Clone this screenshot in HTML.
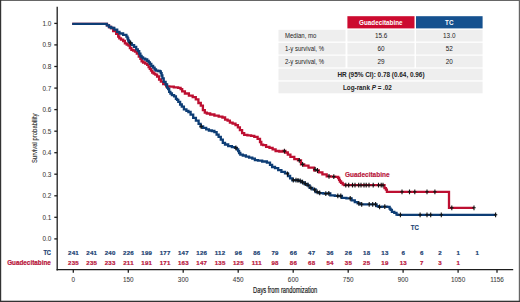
<!DOCTYPE html>
<html><head><meta charset="utf-8"><style>
html,body{margin:0;padding:0;background:#fff;}
body{width:520px;height:302px;overflow:hidden;position:relative;font-family:"Liberation Sans", sans-serif;}
svg{position:absolute;left:0;top:0;display:block;}
</style></head><body>
<svg width="520" height="302" viewBox="0 0 520 302" font-family='"Liberation Sans", sans-serif'>
<rect x="0" y="0" width="520" height="302" fill="#fff"/>
<rect x="0" y="0" width="520" height="0.9" fill="#555"/><rect x="0" y="0" width="1.2" height="302" fill="#333"/><rect x="518.8" y="0" width="1.2" height="302" fill="#666"/><rect x="0" y="300.7" width="520" height="1.3" fill="#333"/>
<g>
<rect x="347.4" y="16.2" width="67.1" height="12.2" fill="#cc0a2f"/>
<rect x="416" y="16.2" width="66.6" height="12.2" fill="#15518f"/>
<g fill="#eeeeee"><rect x="278.5" y="29.8" width="67" height="11.7"/><rect x="347.4" y="29.8" width="67.1" height="11.7"/><rect x="416" y="29.8" width="66.6" height="11.7"/><rect x="278.5" y="42.8" width="67" height="11.7"/><rect x="347.4" y="42.8" width="67.1" height="11.7"/><rect x="416" y="42.8" width="66.6" height="11.7"/><rect x="278.5" y="55.7" width="67" height="11.7"/><rect x="347.4" y="55.7" width="67.1" height="11.7"/><rect x="416" y="55.7" width="66.6" height="11.7"/><rect x="278.5" y="68.6" width="204.1" height="11.7"/><rect x="278.5" y="81.6" width="204.1" height="11.7"/></g>
<g font-size="6.4" fill="#222">
<text x="285" y="37.8" textLength="31.3" lengthAdjust="spacingAndGlyphs">Median, mo</text>
<text x="285" y="50.9" textLength="39" lengthAdjust="spacingAndGlyphs">1-y survival, %</text>
<text x="285" y="63.6" textLength="39" lengthAdjust="spacingAndGlyphs">2-y survival, %</text>
<g text-anchor="middle">
<text x="381.2" y="37.8">15.6</text><text x="449.3" y="37.8">13.0</text>
<text x="381.1" y="50.9">60</text><text x="449.3" y="50.9">52</text>
<text x="381.1" y="63.6">29</text><text x="449.3" y="63.6">20</text>
<text x="381" y="76.9" font-weight="bold" font-size="6.4">HR (95% CI): 0.78 (0.64, 0.96)</text>
<text x="343" y="90.1" text-anchor="start" font-weight="bold" font-size="6.3">Log-rank <tspan font-style="italic">P</tspan> = .02</text>
</g>
<g text-anchor="middle" font-weight="bold" fill="#fff" font-size="6.3">
<text x="380.8" y="24.8">Guadecitabine</text><text x="449.3" y="24.9">TC</text>
</g>
</g>
</g>
<g stroke="#1e1e1e" stroke-width="1.3" fill="none">
<line x1="57.2" y1="6.7" x2="57.2" y2="270.4"/>
<line x1="56.6" y1="269.6" x2="513.2" y2="269.6"/>
<line x1="54.3" y1="238.9" x2="57.2" y2="238.9"/><line x1="54.3" y1="217.3" x2="57.2" y2="217.3"/><line x1="54.3" y1="195.8" x2="57.2" y2="195.8"/><line x1="54.3" y1="174.2" x2="57.2" y2="174.2"/><line x1="54.3" y1="152.7" x2="57.2" y2="152.7"/><line x1="54.3" y1="131.2" x2="57.2" y2="131.2"/><line x1="54.3" y1="109.6" x2="57.2" y2="109.6"/><line x1="54.3" y1="88.1" x2="57.2" y2="88.1"/><line x1="54.3" y1="66.5" x2="57.2" y2="66.5"/><line x1="54.3" y1="44.9" x2="57.2" y2="44.9"/><line x1="54.3" y1="23.4" x2="57.2" y2="23.4"/>
<line x1="73.3" y1="269.6" x2="73.3" y2="272.7"/><line x1="128.3" y1="269.6" x2="128.3" y2="272.7"/><line x1="183.2" y1="269.6" x2="183.2" y2="272.7"/><line x1="238.2" y1="269.6" x2="238.2" y2="272.7"/><line x1="293.2" y1="269.6" x2="293.2" y2="272.7"/><line x1="348.2" y1="269.6" x2="348.2" y2="272.7"/><line x1="403.1" y1="269.6" x2="403.1" y2="272.7"/><line x1="458.1" y1="269.6" x2="458.1" y2="272.7"/><line x1="497.0" y1="269.6" x2="497.0" y2="272.7"/>
</g>
<g font-size="6.4" fill="#3a3a3a" stroke="#3a3a3a" stroke-width="0.06">
<text x="51.4" y="241.4" text-anchor="end">0.0</text><text x="51.4" y="219.8" text-anchor="end">0.1</text><text x="51.4" y="198.3" text-anchor="end">0.2</text><text x="51.4" y="176.8" text-anchor="end">0.3</text><text x="51.4" y="155.2" text-anchor="end">0.4</text><text x="51.4" y="133.7" text-anchor="end">0.5</text><text x="51.4" y="112.1" text-anchor="end">0.6</text><text x="51.4" y="90.6" text-anchor="end">0.7</text><text x="51.4" y="69.0" text-anchor="end">0.8</text><text x="51.4" y="47.4" text-anchor="end">0.9</text><text x="51.4" y="25.9" text-anchor="end">1.0</text>
<text x="73.3" y="281.9" text-anchor="middle">0</text><text x="128.3" y="281.9" text-anchor="middle">150</text><text x="183.2" y="281.9" text-anchor="middle">300</text><text x="238.2" y="281.9" text-anchor="middle">450</text><text x="293.2" y="281.9" text-anchor="middle">600</text><text x="348.2" y="281.9" text-anchor="middle">750</text><text x="403.1" y="281.9" text-anchor="middle">900</text><text x="458.1" y="281.9" text-anchor="middle">1050</text><text x="497.0" y="281.9" text-anchor="middle">1156</text>
</g>
<text x="0" y="0" font-size="8" fill="#2a2a2a" stroke="#2a2a2a" stroke-width="0.1" text-anchor="middle" textLength="49.6" lengthAdjust="spacingAndGlyphs" transform="translate(37 138.3) rotate(-90)">Survival probability</text>
<text x="253" y="292.8" font-size="8.4" fill="#222" stroke="#222" stroke-width="0.2" textLength="64.2" lengthAdjust="spacingAndGlyphs">Days from randomization</text>
<g font-size="6.1" font-weight="bold" text-anchor="middle" stroke-width="0.2" letter-spacing="0.25">
<g fill="#1c3f72" stroke="#1c3f72"><text x="73.5" y="255">241</text><text x="91.8" y="255">241</text><text x="110.1" y="255">240</text><text x="128.5" y="255">226</text><text x="146.8" y="255">199</text><text x="165.1" y="255">177</text><text x="183.4" y="255">147</text><text x="201.8" y="255">126</text><text x="220.1" y="255">112</text><text x="238.4" y="255">96</text><text x="256.8" y="255">86</text><text x="275.1" y="255">79</text><text x="293.4" y="255">66</text><text x="311.7" y="255">47</text><text x="330.1" y="255">36</text><text x="348.4" y="255">26</text><text x="366.7" y="255">18</text><text x="385.0" y="255">13</text><text x="403.3" y="255">6</text><text x="421.7" y="255">6</text><text x="440.0" y="255">2</text><text x="458.3" y="255">1</text><text x="477.2" y="255">1</text></g>
<g fill="#b8143a" stroke="#b8143a"><text x="73.5" y="264.9">235</text><text x="91.8" y="264.9">235</text><text x="110.1" y="264.9">233</text><text x="128.5" y="264.9">211</text><text x="146.8" y="264.9">191</text><text x="165.1" y="264.9">171</text><text x="183.4" y="264.9">163</text><text x="201.8" y="264.9">147</text><text x="220.1" y="264.9">135</text><text x="238.4" y="264.9">125</text><text x="256.8" y="264.9">111</text><text x="275.1" y="264.9">98</text><text x="293.4" y="264.9">86</text><text x="311.7" y="264.9">68</text><text x="330.1" y="264.9">54</text><text x="348.4" y="264.9">35</text><text x="366.7" y="264.9">25</text><text x="385.0" y="264.9">19</text><text x="403.3" y="264.9">13</text><text x="421.7" y="264.9">7</text><text x="440.0" y="264.9">3</text><text x="458.3" y="264.9">1</text></g>
</g>
<text x="51" y="255.3" font-size="6.4" font-weight="bold" fill="#1c3f72" stroke="#1c3f72" stroke-width="0.2" text-anchor="end" textLength="7.6" lengthAdjust="spacingAndGlyphs">TC</text>
<text x="50.8" y="265.4" font-size="6.4" font-weight="bold" fill="#b8143a" stroke="#b8143a" stroke-width="0.2" text-anchor="end" textLength="43.6" lengthAdjust="spacingAndGlyphs">Guadecitabine</text>
<text x="344.9" y="176.9" font-size="6.5" font-weight="bold" fill="#b8143a" stroke="#b8143a" stroke-width="0.15" textLength="44.6" lengthAdjust="spacingAndGlyphs">Guadecitabine</text>
<text x="410.8" y="230.2" font-size="6.4" font-weight="bold" fill="#1c3f72" stroke="#1c3f72" stroke-width="0.15" textLength="8" lengthAdjust="spacingAndGlyphs">TC</text>
<polyline points="72.2,23.9 106.0,23.9 107.0,23.9 107.0,25.4 108.0,25.4 109.0,25.4 109.0,27.0 110.0,27.0 110.8,27.0 110.8,28.0 111.6,28.0 113.2,28.0 113.2,31.2 114.8,31.2 116.2,31.2 116.2,33.9 117.5,33.9 118.2,33.9 118.2,36.5 119.0,36.5 119.3,36.5 119.3,38.4 119.6,38.4 121.0,38.4 121.0,39.6 122.5,39.6 123.2,39.6 123.2,41.0 124.0,41.0 124.9,41.0 124.9,43.4 125.8,43.4 126.7,43.4 126.7,44.5 127.6,44.5 128.5,44.5 128.5,45.7 129.4,45.7 129.9,45.7 129.9,48.1 130.5,48.1 131.4,48.1 131.4,49.9 132.3,49.9 133.2,49.9 133.2,50.5 134.1,50.5 135.0,50.5 135.0,51.7 135.9,51.7 136.8,51.7 136.8,53.5 137.7,53.5 138.8,53.5 138.8,56.5 139.8,56.5 140.4,56.5 140.4,58.9 141.0,58.9 141.6,58.9 141.6,61.3 142.2,61.3 143.1,61.3 143.1,62.5 144.0,62.5 145.2,62.5 145.2,63.7 146.3,63.7 147.2,63.7 147.2,64.9 148.0,64.9 148.6,64.9 148.6,67.1 149.2,67.1 149.8,67.1 149.8,68.9 150.4,68.9 151.0,68.9 151.0,70.7 151.6,70.7 152.2,70.7 152.2,72.5 152.8,72.5 153.7,72.5 153.7,73.7 154.5,73.7 155.3,73.7 155.3,74.7 156.2,74.7 157.1,74.7 157.1,76.5 158.1,76.5 159.1,76.5 159.1,79.5 160.2,79.5 160.9,79.5 160.9,81.6 161.6,81.6 163.2,81.6 163.2,84.2 164.8,84.2 166.2,84.2 166.2,86.3 167.5,86.3 169.3,86.3 169.3,86.6 171.2,86.6 173.8,86.6 173.8,87.4 176.5,87.4 178.1,87.4 178.1,87.9 179.6,87.9 180.6,87.9 180.6,89.2 181.5,89.2 182.2,89.2 182.2,91.4 182.8,91.4 184.9,91.4 184.9,93.5 187.0,93.5 188.9,93.5 188.9,95.6 190.8,95.6 192.7,95.6 192.7,97.2 194.5,97.2 195.8,97.2 195.8,99.3 197.1,99.3 198.4,99.3 198.4,103.0 199.7,103.0 200.8,103.0 200.8,105.7 201.9,105.7 202.9,105.7 202.9,110.1 204.0,110.1 204.8,110.1 204.8,112.7 205.5,112.7 206.8,112.7 206.8,113.5 208.1,113.5 210.2,113.5 210.2,114.5 212.3,114.5 214.4,114.5 214.4,115.6 216.6,115.6 218.7,115.6 218.7,116.6 220.8,116.6 222.4,116.6 222.4,117.5 224.1,117.5 225.1,117.5 225.1,119.6 226.2,119.6 227.6,119.6 227.6,120.6 228.9,120.6 229.9,120.6 229.9,122.6 231.0,122.6 232.6,122.6 232.6,123.6 234.2,123.6 235.5,123.6 235.5,125.2 236.8,125.2 237.9,125.2 237.9,127.3 238.9,127.3 239.9,127.3 239.9,130.1 241.0,130.1 242.1,130.1 242.1,133.2 243.2,133.2 244.2,133.2 244.2,134.8 245.3,134.8 247.4,134.8 247.4,135.4 249.5,135.4 251.1,135.4 251.1,135.9 252.7,135.9 254.3,135.9 254.3,136.9 255.9,136.9 257.6,136.9 257.6,138.8 259.2,138.8 260.0,138.8 260.0,142.0 260.8,142.0 261.3,142.0 261.3,144.7 261.8,144.7 263.1,144.7 263.1,145.2 264.5,145.2 266.1,145.2 266.1,146.8 267.6,146.8 269.5,146.8 269.5,147.8 271.3,147.8 272.6,147.8 272.6,149.4 274.0,149.4 275.6,149.4 275.6,151.0 277.2,151.0 279.3,151.0 279.3,151.5 281.4,151.5 282.7,151.5 282.7,150.9 284.0,150.9 285.4,150.9 285.4,152.5 286.7,152.5 287.8,152.5 287.8,154.6 288.8,154.6 290.4,154.6 290.4,156.8 292.0,156.8 294.3,156.8 294.3,159.1 296.6,159.1 298.0,159.1 298.0,160.4 299.3,160.4 301.0,160.4 301.0,164.4 302.6,164.4 304.2,164.4 304.2,165.7 305.9,165.7 308.5,165.7 308.5,167.7 311.2,167.7 314.1,167.7 314.1,170.3 317.1,170.3 318.8,170.3 318.8,172.3 320.5,172.3 322.4,172.3 322.4,174.3 324.4,174.3 326.7,174.3 326.7,176.3 329.0,176.3 331.0,176.3 331.0,176.6 333.0,176.6 335.2,176.6 335.2,176.8 337.5,176.8 338.1,176.8 338.1,178.0 338.7,178.0 339.1,178.0 339.1,179.9 339.5,179.9 339.9,179.9 339.9,181.5 340.3,181.5 341.1,181.5 341.1,182.8 341.9,182.8 342.7,182.8 342.7,184.4 343.5,184.4 344.2,184.4 344.2,185.2 345.0,185.2 383.8,185.2 384.5,185.2 384.5,188.2 385.2,188.2 385.9,188.2 385.9,189.6 386.5,189.6 386.9,189.6 386.9,191.8 387.2,191.8 449.0,191.8 449.0,207.8 474.0,207.8" fill="none" stroke="#bd0f31" stroke-width="2.3" stroke-linejoin="miter"/>
<polyline points="72.2,23.9 105.8,23.9 106.8,23.9 106.8,25.4 107.9,25.4 109.0,25.4 109.0,27.0 110.0,27.0 111.3,27.0 111.3,28.0 112.7,28.0 114.3,28.0 114.3,29.6 115.9,29.6 117.2,29.6 117.2,31.8 118.5,31.8 119.5,31.8 119.5,33.5 120.6,33.5 123.1,33.5 123.1,34.8 125.6,34.8 126.4,34.8 126.4,36.6 127.3,36.6 127.5,36.6 127.5,38.5 127.8,38.5 128.2,38.5 128.2,40.5 128.5,40.5 129.0,40.5 129.0,42.0 129.5,42.0 130.2,42.0 130.2,43.3 130.8,43.3 131.9,43.3 131.9,45.1 132.9,45.1 134.1,45.1 134.1,46.9 135.3,46.9 136.2,46.9 136.2,49.3 137.1,49.3 137.8,49.3 137.8,51.2 138.6,51.2 139.2,51.2 139.2,53.6 139.8,53.6 140.4,53.6 140.4,56.0 141.0,56.0 141.6,56.0 141.6,57.4 142.2,57.4 143.1,57.4 143.1,58.6 144.0,58.6 145.2,58.6 145.2,59.5 146.3,59.5 147.2,59.5 147.2,60.9 148.1,60.9 148.7,60.9 148.7,62.3 149.3,62.3 149.9,62.3 149.9,64.0 150.4,64.0 151.3,64.0 151.3,66.0 152.2,66.0 153.1,66.0 153.1,67.7 154.0,67.7 154.6,67.7 154.6,69.5 155.1,69.5 156.0,69.5 156.0,70.7 156.9,70.7 158.1,70.7 158.1,71.0 159.3,71.0 159.9,71.0 159.9,71.4 160.5,71.4 160.8,71.4 160.8,73.1 161.1,73.1 161.6,73.1 161.6,75.5 162.0,75.5 162.4,75.5 162.4,78.3 162.8,78.3 163.7,78.3 163.7,81.8 164.5,81.8 165.6,81.8 165.6,84.5 166.6,84.5 167.1,84.5 167.1,87.6 167.7,87.6 168.2,87.6 168.2,89.2 168.7,89.2 169.2,89.2 169.2,91.9 169.8,91.9 170.4,91.9 170.4,93.5 170.9,93.5 171.9,93.5 171.9,95.1 173.0,95.1 174.1,95.1 174.1,96.3 175.1,96.3 175.9,96.3 175.9,98.8 176.7,98.8 177.1,98.8 177.1,99.9 177.5,99.9 178.3,99.9 178.3,101.8 179.2,101.8 180.1,101.8 180.1,104.5 181.0,104.5 181.8,104.5 181.8,106.6 182.6,106.6 183.9,106.6 183.9,109.3 185.3,109.3 186.4,109.3 186.4,110.8 187.5,110.8 188.4,110.8 188.4,112.0 189.3,112.0 190.6,112.0 190.6,114.6 191.9,114.6 193.2,114.6 193.2,117.9 194.6,117.9 195.9,117.9 195.9,120.6 197.2,120.6 198.6,120.6 198.6,123.9 199.9,123.9 200.6,123.9 200.6,126.5 201.2,126.5 203.1,126.5 203.1,127.8 204.9,127.8 206.2,127.8 206.2,129.4 207.6,129.4 208.9,129.4 208.9,130.5 210.2,130.5 211.8,130.5 211.8,131.0 213.4,131.0 214.4,131.0 214.4,132.1 215.5,132.1 216.6,132.1 216.6,134.7 217.6,134.7 218.6,134.7 218.6,136.8 219.7,136.8 220.8,136.8 220.8,139.7 221.9,139.7 222.8,139.7 222.8,142.9 223.7,142.9 225.0,142.9 225.0,144.5 226.3,144.5 228.2,144.5 228.2,146.1 230.1,146.1 231.9,146.1 231.9,147.1 233.8,147.1 234.9,147.1 234.9,147.9 235.9,147.9 236.9,147.9 236.9,149.4 237.8,149.4 238.2,149.4 238.2,151.1 238.7,151.1 239.1,151.1 239.1,153.0 239.5,153.0 240.3,153.0 240.3,154.6 241.2,154.6 242.8,154.6 242.8,155.5 244.3,155.5 245.9,155.5 245.9,156.6 247.5,156.6 249.1,156.6 249.1,157.7 250.7,157.7 252.3,157.7 252.3,158.7 253.9,158.7 254.9,158.7 254.9,160.1 256.0,160.1 258.0,160.1 258.0,160.6 260.0,160.6 262.2,160.6 262.2,161.5 264.5,161.5 266.9,161.5 266.9,162.7 269.2,162.7 270.0,162.7 270.0,164.8 270.8,164.8 272.1,164.8 272.1,167.0 273.4,167.0 275.0,167.0 275.0,168.1 276.6,168.1 278.2,168.1 278.2,170.2 279.8,170.2 281.4,170.2 281.4,171.8 282.9,171.8 285.0,171.8 285.0,173.3 287.2,173.3 288.0,173.3 288.0,176.0 288.8,176.0 290.1,176.0 290.1,178.4 291.4,178.4 292.4,178.4 292.4,180.3 293.5,180.3 295.1,180.3 295.1,180.2 296.7,180.2 298.3,180.2 298.3,180.8 299.9,180.8 301.4,180.8 301.4,182.3 303.0,182.3 304.5,182.3 304.5,184.0 306.0,184.0 307.2,184.0 307.2,185.4 308.4,185.4 309.6,185.4 309.6,187.9 310.9,187.9 312.4,187.9 312.4,189.4 313.9,189.4 315.6,189.4 315.6,192.1 317.4,192.1 319.1,192.1 319.1,193.1 320.9,193.1 323.4,193.1 323.4,193.6 325.8,193.6 327.3,193.6 327.3,193.4 328.8,193.4 330.3,193.4 330.3,195.4 331.8,195.4 334.8,195.4 334.8,195.9 337.8,195.9 339.4,195.9 339.4,196.0 341.0,196.0 341.9,196.0 341.9,197.9 342.7,197.9 346.4,197.9 346.4,198.3 350.2,198.3 351.6,198.3 351.6,200.4 353.1,200.4 354.8,200.4 354.8,202.1 356.5,202.1 357.6,202.1 357.6,203.3 358.8,203.3 360.2,203.3 360.2,204.3 361.7,204.3 375.6,204.3 376.5,204.3 376.5,206.1 377.3,206.1 378.5,206.1 378.5,206.9 379.6,206.9 382.2,206.9 382.2,206.7 384.8,206.7 387.1,206.7 387.1,206.9 389.3,206.9 389.6,206.9 389.6,208.7 390.0,208.7 390.6,208.7 390.6,209.9 391.1,209.9 391.9,209.9 391.9,211.9 392.7,211.9 394.3,211.9 394.3,212.8 395.9,212.8 396.5,212.8 396.5,214.6 397.1,214.6 397.8,214.6 397.8,214.8 398.5,214.8 496.3,214.8" fill="none" stroke="#0d3d75" stroke-width="2.3" stroke-linejoin="miter"/>
<g stroke="#111" stroke-width="1.1" fill="none">
<path d="M284.4 148.7V153.5M282.7 151.1H286.1"/><path d="M299.3 158.0V162.8M297.6 160.4H301.0"/><path d="M302.6 162.0V166.8M300.9 164.4H304.3"/><path d="M315.1 167.0V171.8M313.4 169.4H316.8"/><path d="M317.5 168.1V172.9M315.8 170.5H319.2"/><path d="M329.0 173.9V178.7M327.3 176.3H330.7"/><path d="M333.8 174.2V179.0M332.1 176.6H335.5"/><path d="M345.8 182.8V187.6M344.1 185.2H347.5"/><path d="M348.7 182.8V187.6M347.0 185.2H350.4"/><path d="M352.5 182.8V187.6M350.8 185.2H354.2"/><path d="M355.0 182.8V187.6M353.3 185.2H356.7"/><path d="M358.7 182.8V187.6M357.0 185.2H360.4"/><path d="M361.0 182.8V187.6M359.3 185.2H362.7"/><path d="M364.0 182.8V187.6M362.3 185.2H365.7"/><path d="M366.2 182.8V187.6M364.5 185.2H367.9"/><path d="M369.0 182.8V187.6M367.3 185.2H370.7"/><path d="M373.2 182.8V187.6M371.5 185.2H374.9"/><path d="M378.5 182.8V187.6M376.8 185.2H380.2"/><path d="M381.2 182.8V187.6M379.5 185.2H382.9"/><path d="M383.0 182.8V187.6M381.3 185.2H384.7"/><path d="M402.0 189.4V194.2M400.3 191.8H403.7"/><path d="M409.5 189.4V194.2M407.8 191.8H411.2"/><path d="M414.8 189.4V194.2M413.1 191.8H416.5"/><path d="M427.0 189.4V194.2M425.3 191.8H428.7"/><path d="M434.9 189.4V194.2M433.2 191.8H436.6"/><path d="M451.8 205.4V210.2M450.1 207.8H453.5"/><path d="M474.0 205.4V210.2M472.3 207.8H475.7"/>
<path d="M130.4 40.5V45.3M128.7 42.9H132.1"/><path d="M201.2 124.1V128.9M199.5 126.5H202.9"/><path d="M235.9 145.5V150.3M234.2 147.9H237.6"/><path d="M287.5 171.4V176.2M285.8 173.8H289.2"/><path d="M293.3 177.7V182.5M291.6 180.1H295.0"/><path d="M296.0 177.8V182.6M294.3 180.2H297.7"/><path d="M298.0 178.0V182.8M296.3 180.4H299.7"/><path d="M300.2 178.5V183.3M298.5 180.9H301.9"/><path d="M302.6 179.7V184.5M300.9 182.1H304.3"/><path d="M305.3 181.2V186.0M303.6 183.6H307.0"/><path d="M308.1 182.8V187.6M306.4 185.2H309.8"/><path d="M310.9 185.5V190.3M309.2 187.9H312.6"/><path d="M314.6 187.5V192.3M312.9 189.9H316.3"/><path d="M317.2 189.5V194.3M315.5 191.9H318.9"/><path d="M319.7 190.4V195.2M318.0 192.8H321.4"/><path d="M325.8 191.2V196.0M324.1 193.6H327.5"/><path d="M328.8 191.0V195.8M327.1 193.4H330.5"/><path d="M337.8 193.5V198.3M336.1 195.9H339.5"/><path d="M340.8 193.6V198.4M339.1 196.0H342.5"/><path d="M350.2 195.9V200.7M348.5 198.3H351.9"/><path d="M358.8 200.9V205.7M357.1 203.3H360.5"/><path d="M361.7 201.9V206.7M360.0 204.3H363.4"/><path d="M369.2 201.9V206.7M367.5 204.3H370.9"/><path d="M372.7 201.9V206.7M371.0 204.3H374.4"/><path d="M375.6 201.9V206.7M373.9 204.3H377.3"/><path d="M379.6 204.5V209.3M377.9 206.9H381.3"/><path d="M384.8 204.3V209.1M383.1 206.7H386.5"/><path d="M400.4 212.4V217.2M398.7 214.8H402.1"/><path d="M420.1 212.4V217.2M418.4 214.8H421.8"/><path d="M427.0 212.4V217.2M425.3 214.8H428.7"/><path d="M430.7 212.4V217.2M429.0 214.8H432.4"/><path d="M441.3 212.4V217.2M439.6 214.8H443.0"/><path d="M495.6 212.4V217.2M493.9 214.8H497.3"/>
</g>
</svg>
</body></html>
